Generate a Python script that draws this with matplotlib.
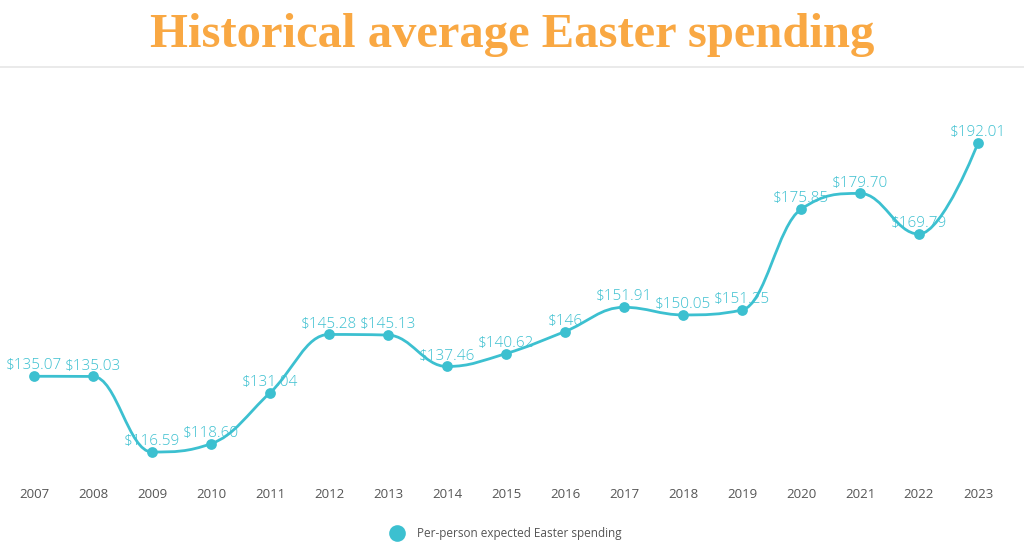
import matplotlib
matplotlib.use("Agg")
import matplotlib.pyplot as plt
from matplotlib.path import Path
from matplotlib.patches import PathPatch
from matplotlib.lines import Line2D

years = [2007, 2008, 2009, 2010, 2011, 2012, 2013, 2014, 2015, 2016,
         2017, 2018, 2019, 2020, 2021, 2022, 2023]
spending = [135.07, 135.03, 116.59, 118.60, 131.04, 145.28, 145.13, 137.46,
            140.62, 146.00, 151.91, 150.05, 151.25, 175.85, 179.70, 169.79, 192.01]
value_labels = ["$135.07", "$135.03", "$116.59", "$118.60", "$131.04", "$145.28",
                "$145.13", "$137.46", "$140.62", "$146", "$151.91", "$150.05",
                "$151.25", "$175.85", "$179.70", "$169.79", "$192.01"]
title = "Historical average Easter spending"
series_name = "Per-person expected Easter spending"

LINE = "#3cc0d0"
TXT = "#555555"

W, H = 1024, 557
fig = plt.figure(figsize=(W / 100, H / 100), dpi=100)
plt.rcParams['font.family'] = ['Open Sans', 'DejaVu Sans']

# axes in pixel geometry
top_px, bot_px = 80, 475
ax = fig.add_axes([0, 1 - bot_px / H, 1, (bot_px - top_px) / H])
step = 59.0
x0px = 34.0
ax.set_xlim(years[0] - x0px / step, years[0] + (W - x0px) / step)
ppd = 4.097  # pixels per dollar
ref_v, ref_px = 116.59, 452.0
ax.set_ylim(ref_v - (bot_px - ref_px) / ppd, ref_v + (ref_px - top_px) / ppd)

# Highcharts-like spline through the points
def spline_path(xs, ys, smoothing=1.5):
    n = len(xs)
    denom = smoothing + 1
    lc = [None] * n
    rc = [None] * n
    for i in range(n):
        px, py = xs[i], ys[i]
        if 0 < i < n - 1:
            lx, ly = xs[i - 1], ys[i - 1]
            nx, ny = xs[i + 1], ys[i + 1]
            lcx = (smoothing * px + lx) / denom
            lcy = (smoothing * py + ly) / denom
            rcx = (smoothing * px + nx) / denom
            rcy = (smoothing * py + ny) / denom
            if rcx != lcx:
                corr = ((rcy - lcy) * (rcx - px)) / (rcx - lcx) + py - rcy
                lcy += corr
                rcy += corr
            if lcy > max(ly, py):
                lcy = max(ly, py); rcy = 2 * py - lcy
            elif lcy < min(ly, py):
                lcy = min(ly, py); rcy = 2 * py - lcy
            if rcy > max(py, ny):
                rcy = max(py, ny); lcy = 2 * py - rcy
            elif rcy < min(py, ny):
                rcy = min(py, ny); lcy = 2 * py - rcy
            lc[i] = (lcx, lcy)
            rc[i] = (rcx, rcy)
        else:
            lc[i] = (px, py)
            rc[i] = (px, py)
    verts = [(xs[0], ys[0])]
    codes = [Path.MOVETO]
    for i in range(1, n):
        verts += [rc[i - 1], lc[i], (xs[i], ys[i])]
        codes += [Path.CURVE4] * 3
    return Path(verts, codes)

ax.add_patch(PathPatch(spline_path(years, spending), fill=False,
                       edgecolor=LINE, lw=2.0, capstyle='round', zorder=2))
ax.scatter(years, spending, s=60, color=LINE, zorder=3, linewidths=0)

for x, y, lab in zip(years, spending, value_labels):
    ax.annotate(lab, (x, y), xytext=(0, 7.5), textcoords='offset points',
                ha='center', va='center', fontsize=11, fontweight='light',
                color=LINE, zorder=4)

for s in ax.spines.values():
    s.set_visible(False)
ax.set_yticks([])
ax.set_xticks(years)
ax.set_xticklabels([str(y) for y in years], fontsize=9.5, color=TXT)
ax.tick_params(axis='x', length=0, pad=9.5)
ax.patch.set_alpha(0)

# title and separator
fig.text(0.5, 1 - 35 / H, title, ha='center', va='center',
         family=['Liberation Serif', 'DejaVu Serif'], fontweight='bold',
         fontsize=35, color="#f9a843")
fig.add_artist(Line2D([0, 1], [1 - 66.5 / H, 1 - 66.5 / H], color="#e6e6e6", lw=1.2))

# legend
fig.add_artist(Line2D([397 / W], [1 - 533 / H], marker='o', markersize=12,
                      color=LINE, markeredgewidth=0, linestyle='none'))
fig.text(417 / W, 1 - 533 / H, series_name, ha='left', va='center',
         fontsize=8.5, color=TXT)

fig.savefig("out.png", dpi=100, facecolor='white')
